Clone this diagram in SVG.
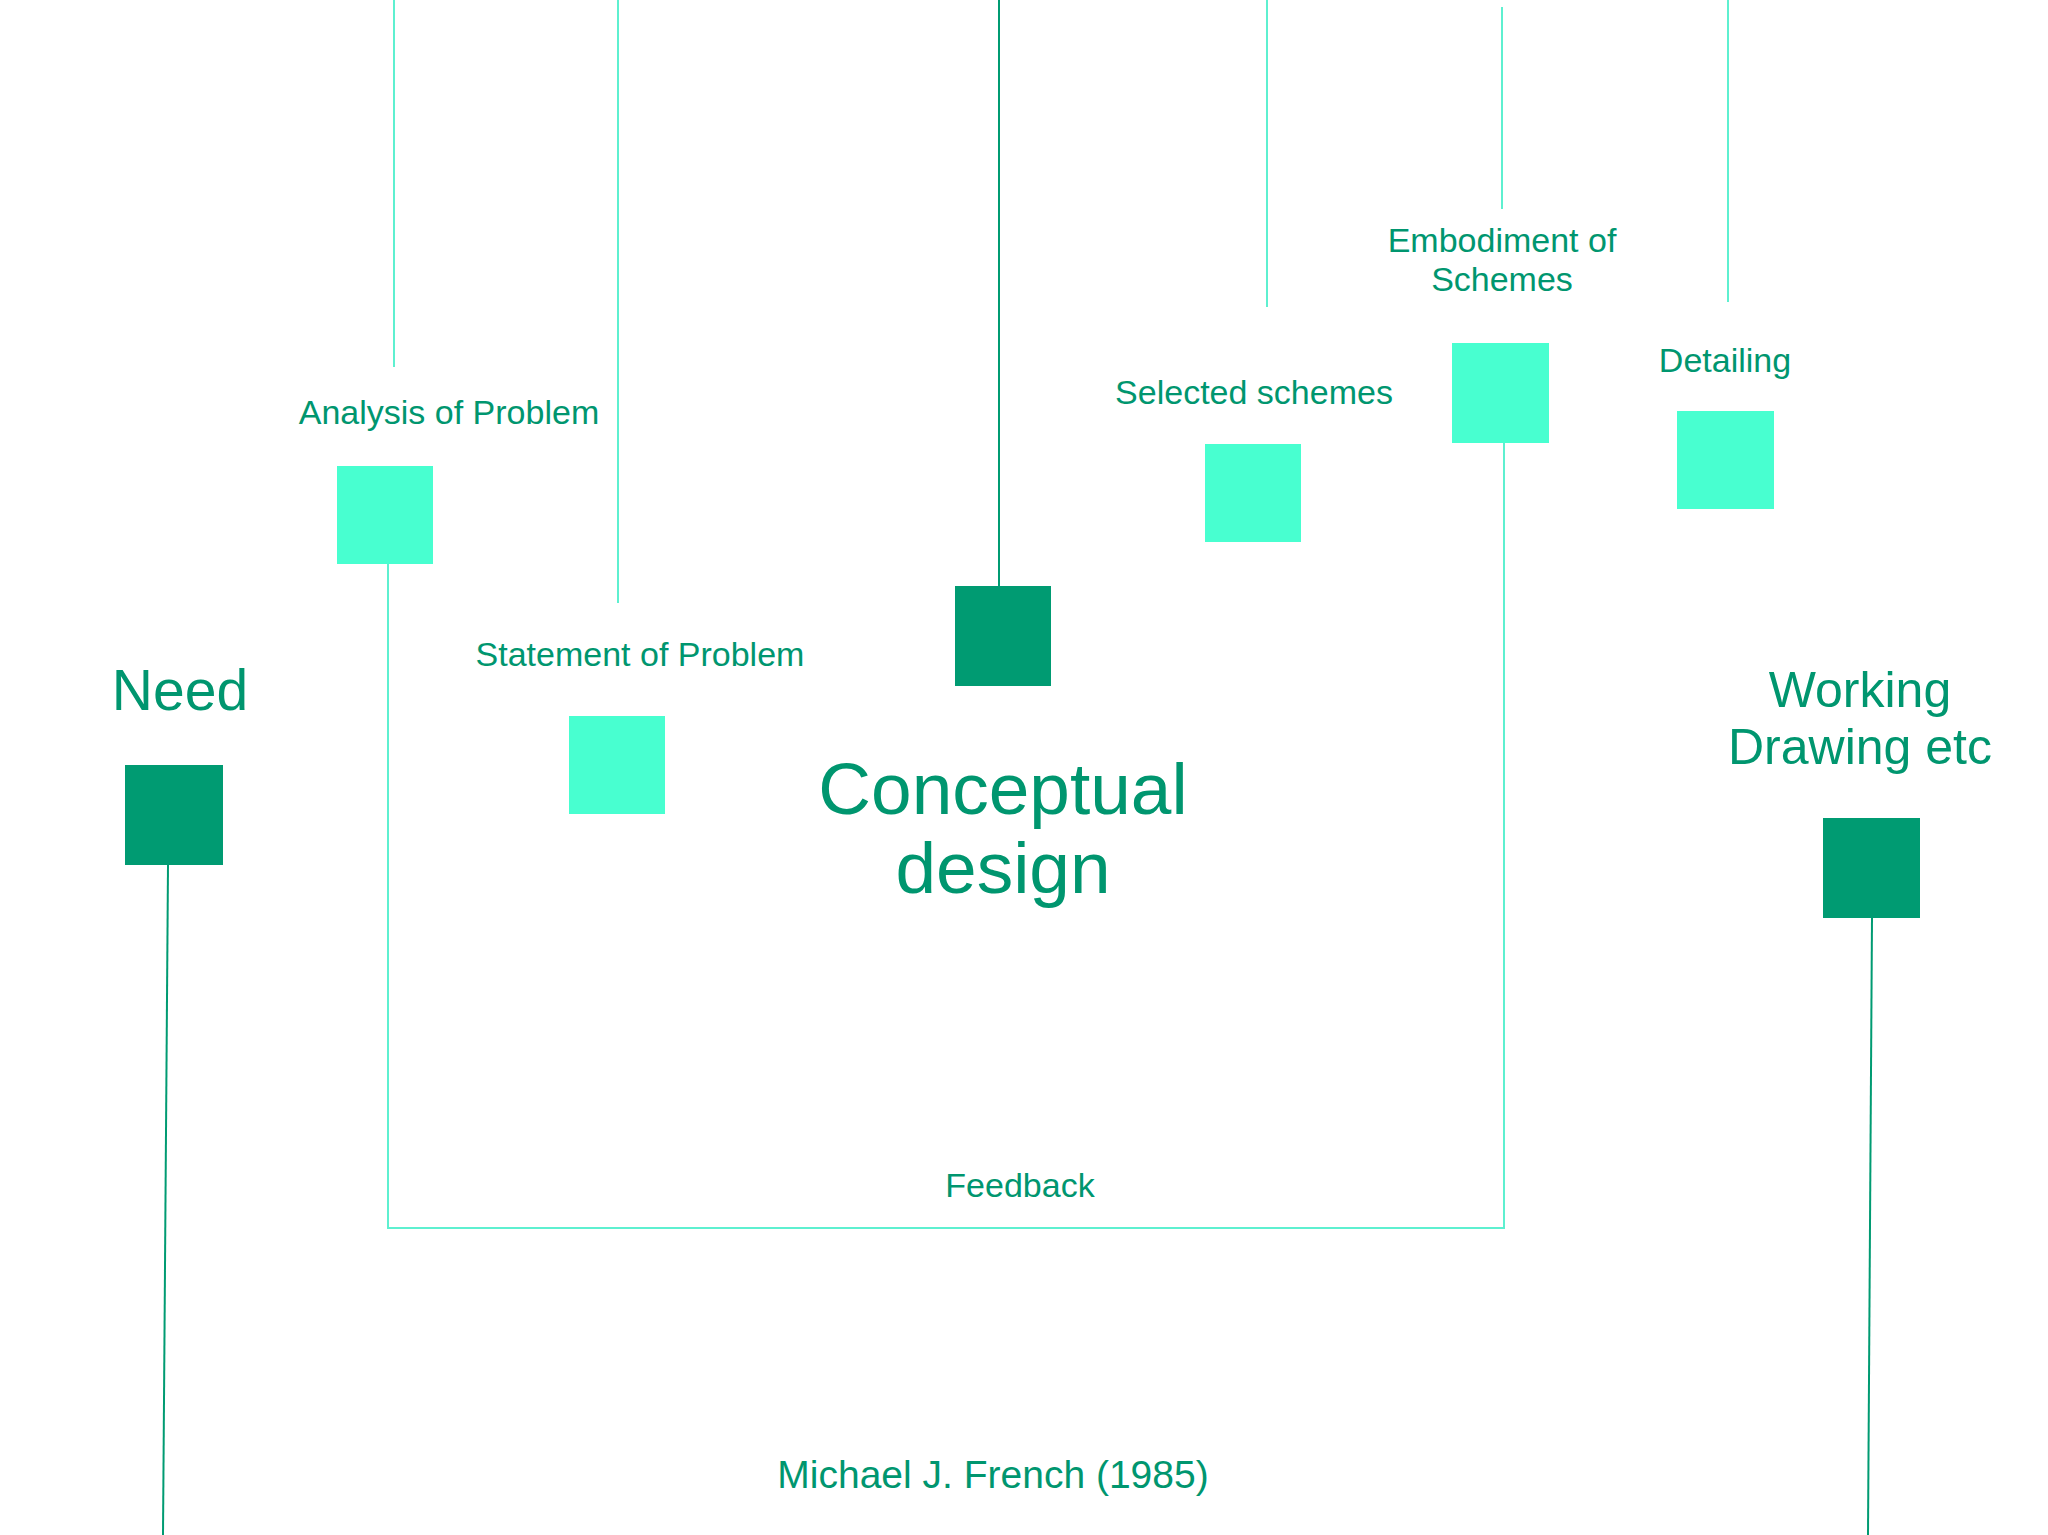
<svg xmlns="http://www.w3.org/2000/svg" width="2048" height="1535" viewBox="0 0 2048 1535">
<style>
.d{fill:#009B72}.l{fill:#48FFD0}
.cd{stroke:#009B72;stroke-width:2;fill:none}.cl{stroke:#5EF0D0;stroke-width:2;fill:none}
text{font-family:"Liberation Sans",Arial,sans-serif;fill:#00966F;text-anchor:middle}
.s{font-size:34px}.m{font-size:50px}.b{font-size:73px}
</style>
<rect width="2048" height="1535" fill="#fff"/>
<g id="connectors">
<path class="cd" d="M168 865 L163 1535"/>
<path class="cl" d="M394 0 V367"/>
<path class="cl" d="M388 564 V1228 H1504 V443"/>
<path class="cl" d="M618 0 V603"/>
<path class="cd" d="M999 0 V586"/>
<path class="cl" d="M1267 0 V307"/>
<path class="cl" d="M1502 7 V209"/>
<path class="cl" d="M1728 0 V302"/>
<path class="cd" d="M1872 918 L1868 1535"/>
</g>
<g id="need"><rect class="d" x="125" y="765" width="98" height="100"/><text x="180" y="710" style="font-size:57px">Need</text></g>
<g id="analysis"><rect class="l" x="337" y="466" width="96" height="98"/><text class="s" x="449" y="424">Analysis of Problem</text></g>
<g id="statement"><rect class="l" x="569" y="716" width="96" height="98"/><text class="s" x="640" y="666">Statement of Problem</text></g>
<g id="conceptual"><rect class="d" x="955" y="586" width="96" height="100"/><text class="b" x="1003" y="814">Conceptual</text><text class="b" x="1003" y="893">design</text></g>
<g id="selected"><rect class="l" x="1205" y="444" width="96" height="98"/><text class="s" x="1254" y="404">Selected schemes</text></g>
<g id="embodiment"><rect class="l" x="1452" y="343" width="97" height="100"/><text class="s" x="1502" y="252">Embodiment of</text><text class="s" x="1502" y="291">Schemes</text></g>
<g id="detailing"><rect class="l" x="1677" y="411" width="97" height="98"/><text class="s" x="1725" y="372">Detailing</text></g>
<g id="working"><rect class="d" x="1823" y="818" width="97" height="100"/><text class="m" x="1860" y="707">Working</text><text class="m" x="1860" y="764">Drawing etc</text></g>
<g id="feedback"><text class="s" x="1020" y="1197">Feedback</text></g>
<g id="credit"><text x="993" y="1488" style="font-size:39px">Michael J. French (1985)</text></g>
</svg>
